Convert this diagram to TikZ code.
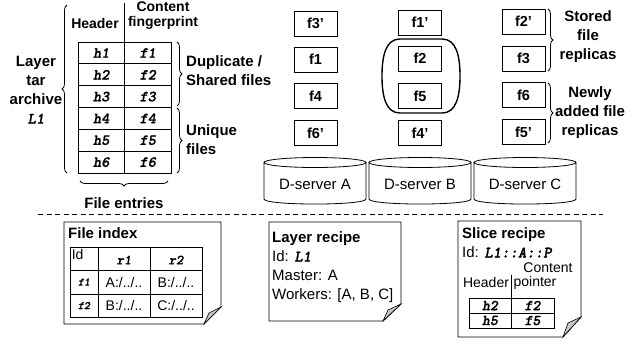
\documentclass[tikz,border=0pt]{standalone}
\usepackage{fontspec}
\setmainfont{Liberation Sans}
\newfontfamily\codefont{lmmonolt10-boldoblique}[Extension=.otf, FakeBold=1.2]
\usetikzlibrary{decorations.pathreplacing}
\newcommand{\cd}[1]{{\codefont #1}}

\begin{document}
\begin{tikzpicture}[x=1pt,y=-1pt,
  lbl/.style={font=\fontsize{15}{19}\selectfont\bfseries, inner sep=0pt},
  hdr/.style={font=\fontsize{14}{17}\selectfont\bfseries, inner sep=0pt, align=center},
  txt/.style={font=\fontsize{15}{19}\selectfont, inner sep=0pt},
  small/.style={font=\fontsize{14}{16}\selectfont, inner sep=0pt},
  fbox/.style={draw, line width=0.8pt, minimum width=43pt, minimum height=25pt,
               inner sep=0pt, font=\fontsize{14.5}{16}\selectfont\bfseries},
  tcell/.style={draw, line width=0.8pt, minimum width=46.5pt, minimum height=21.83pt,
                inner sep=0pt, font=\fontsize{15.5}{16}\selectfont},
  brc/.style={decorate, decoration={brace, amplitude=5pt}, line width=0.8pt},
  note/.style={draw, line width=0.9pt, fill=white},
  curl/.style={draw, line width=0.6pt, fill=gray!45},
  scell/.style={draw, line width=0.8pt, minimum height=15pt, inner sep=0pt,
                font=\fontsize{15}{15}\selectfont}]

\useasboundingbox (0,0) rectangle (632,343);

% ---------- layer archive table ----------
\node[hdr] (hhead) at (95,23) {Header};
\node[hdr] (chead) at (163,15.5) {Content\\[-2pt]fingerprint};
\draw[line width=0.8pt] (124.5,3) -- (124.5,42);

\foreach \i/\yy in {1/52.9,2/74.75,3/96.6,4/118.4,5/140.2,6/162.1}{
  \node[tcell] (h\i) at (101.25,\yy) {\cd{h\i}};
  \node[tcell] (f\i) at (147.75,\yy) {\cd{f\i}};
}

\draw[brc] (67,173) -- (67,5);
\node[lbl, align=center] (layer) at (36,90) {Layer\\tar\\archive\\{\fontsize{16}{19}\selectfont\cd{L1}}};

\draw[brc] (177,42) -- (177,106);
\draw[brc] (177,108) -- (177,173);
\node[lbl, align=left, anchor=west] (dup) at (186,71) {Duplicate /\\Shared files};
\node[lbl, align=left, anchor=west] (uniq) at (186,140) {Unique\\files};

\draw[brc] (168,181) -- (80,181);
\node[lbl] (entries) at (124,203) {File entries};

% ---------- file replicas on the servers ----------
\node[fbox] (a1) at (315.5,23.5) {f3'};
\node[fbox] (a2) at (315.5,59.5) {f1};
\node[fbox] (a3) at (315.5,96) {f4};
\node[fbox] (a4) at (315.5,133) {f6'};

\node[fbox] (b1) at (420,22.5) {f1'};
\node[fbox] (b2) at (420,58.5) {f2};
\node[fbox] (b3) at (420,96) {f5};
\node[fbox] (b4) at (420,133) {f4'};

\node[fbox] (c1) at (523.5,21.5) {f2'};
\node[fbox] (c2) at (523.5,58.5) {f3};
\node[fbox] (c3) at (523.5,95) {f6};
\node[fbox] (c4) at (523.5,132) {f5'};

% group holding the slice of server B
\draw[line width=1.4pt] (400,39) -- (442,39)
  .. controls (456,39) and (460,55) .. (460,76)
  .. controls (460,97) and (456,113) .. (442,113)
  -- (400,113)
  .. controls (386,113) and (382,97) .. (382,76)
  .. controls (382,55) and (386,39) .. (400,39);

\draw[brc] (548,9) -- (548,71);
\draw[brc] (548,83) -- (548,143);
\node[lbl, align=center] (stored) at (588,37) {Stored\\file\\replicas};
\node[lbl, align=center] (newly) at (590,113) {Newly\\added file\\replicas};

% ---------- servers ----------
\foreach \n/\xa/\xb/\lab in {srvA/264/366/A, srvB/369/471/B, srvC/474/576/C}{
  \draw[line width=0.8pt] (\xa,162.5) -- (\xa,199)
    .. controls (\xa,205.7) and (\xb,205.7) .. (\xb,199) -- (\xb,162.5);
  \draw[line width=0.8pt] ({(\xa+\xb)/2},162.5) ellipse [x radius={(\xb-\xa)/2*1pt}, y radius=5pt];
  \node[txt] (\n) at ({(\xa+\xb)/2},184) {D-server \lab};
}

% ---------- separator ----------
\draw[line width=0.8pt, dash pattern=on 5pt off 3.5pt] (38,214) -- (603,214);

% ---------- file index ----------
\draw[note] (64,222) -- (221,222) -- (221,307) -- (204,324) -- (64,324) -- cycle;
\draw[curl] (221,307) -- (209,313) -- (204,324) -- cycle;
\node[lbl, anchor=west] (fidx) at (68,233.5) {File index};
\foreach \r/\yc/\hh in {0/258.5/23, 1/282/24, 2/305.5/23}{
  \node[draw, line width=0.8pt, minimum width=28pt, minimum height=\hh pt, inner sep=0pt] (id\r) at (84,\yc) {};
  \node[draw, line width=0.8pt, minimum width=52pt, minimum height=\hh pt, inner sep=0pt] (ra\r) at (124,\yc) {};
  \node[draw, line width=0.8pt, minimum width=52pt, minimum height=\hh pt, inner sep=0pt] (rb\r) at (176,\yc) {};
}
\node[small, anchor=north west] at (id0.north west) [xshift=2pt, yshift=-2.5pt] {Id};
\node[inner sep=0pt, font=\fontsize{14}{15}\selectfont] at ([yshift=-1.5pt]ra0.center) {\cd{r1}};
\node[inner sep=0pt, font=\fontsize{14}{15}\selectfont] at ([yshift=-1.5pt]rb0.center) {\cd{r2}};
\node[inner sep=0pt, font=\fontsize{11.5}{12}\selectfont] at (id1.center) {\cd{f1}};
\node[inner sep=0pt, font=\fontsize{11.5}{12}\selectfont] at (id2.center) {\cd{f2}};
\node[small] at (ra1.center) {A:/../..};
\node[small] at (rb1.center) {B:/../..};
\node[small] at (ra2.center) {B:/../..};
\node[small] at (rb2.center) {C:/../..};

% ---------- layer recipe ----------
\draw[note] (269,222) -- (401,222) -- (401,304) -- (383,321) -- (269,321) -- cycle;
\draw[curl] (401,304) -- (388,310) -- (383,321) -- cycle;
\node[lbl, anchor=base west] (lrt) at (272,242.5) {Layer recipe};
\node[txt, anchor=base west] (lr1) at (272,261.5) {Id: {\fontsize{16}{19}\selectfont\cd{L1}}};
\node[txt, anchor=base west] (lr2) at (272,280.5) {Master: A};
\node[txt, anchor=base west] (lr3) at (272,299.5) {Workers: [A, B, C]};

% ---------- slice recipe ----------
\draw[note] (458,221) -- (581,221) -- (581,317) -- (563,337) -- (458,337) -- cycle;
\draw[curl] (581,317) -- (568,323) -- (563,337) -- cycle;
\node[lbl, anchor=base west] (srt) at (462,238.5) {Slice recipe};
\node[txt, anchor=base west] (sr1) at (462,257.5) {Id: {\fontsize{16}{19}\selectfont\cd{L1::A::P}}};
\node[small] (sc) at (548,268) {Content};
\node[small] (sh) at (486,282) {Header};
\node[small] (sp) at (535,283) {pointer};
\draw[line width=0.8pt] (511,275) -- (511,298);
\node[scell, minimum width=42pt] (s11) at (490,305.5) {\cd{h2}};
\node[scell, minimum width=43pt] (s12) at (532.5,305.5) {\cd{f2}};
\node[scell, minimum width=42pt] (s21) at (490,320.5) {\cd{h5}};
\node[scell, minimum width=43pt] (s22) at (532.5,320.5) {\cd{f5}};

\end{tikzpicture}
\end{document}
